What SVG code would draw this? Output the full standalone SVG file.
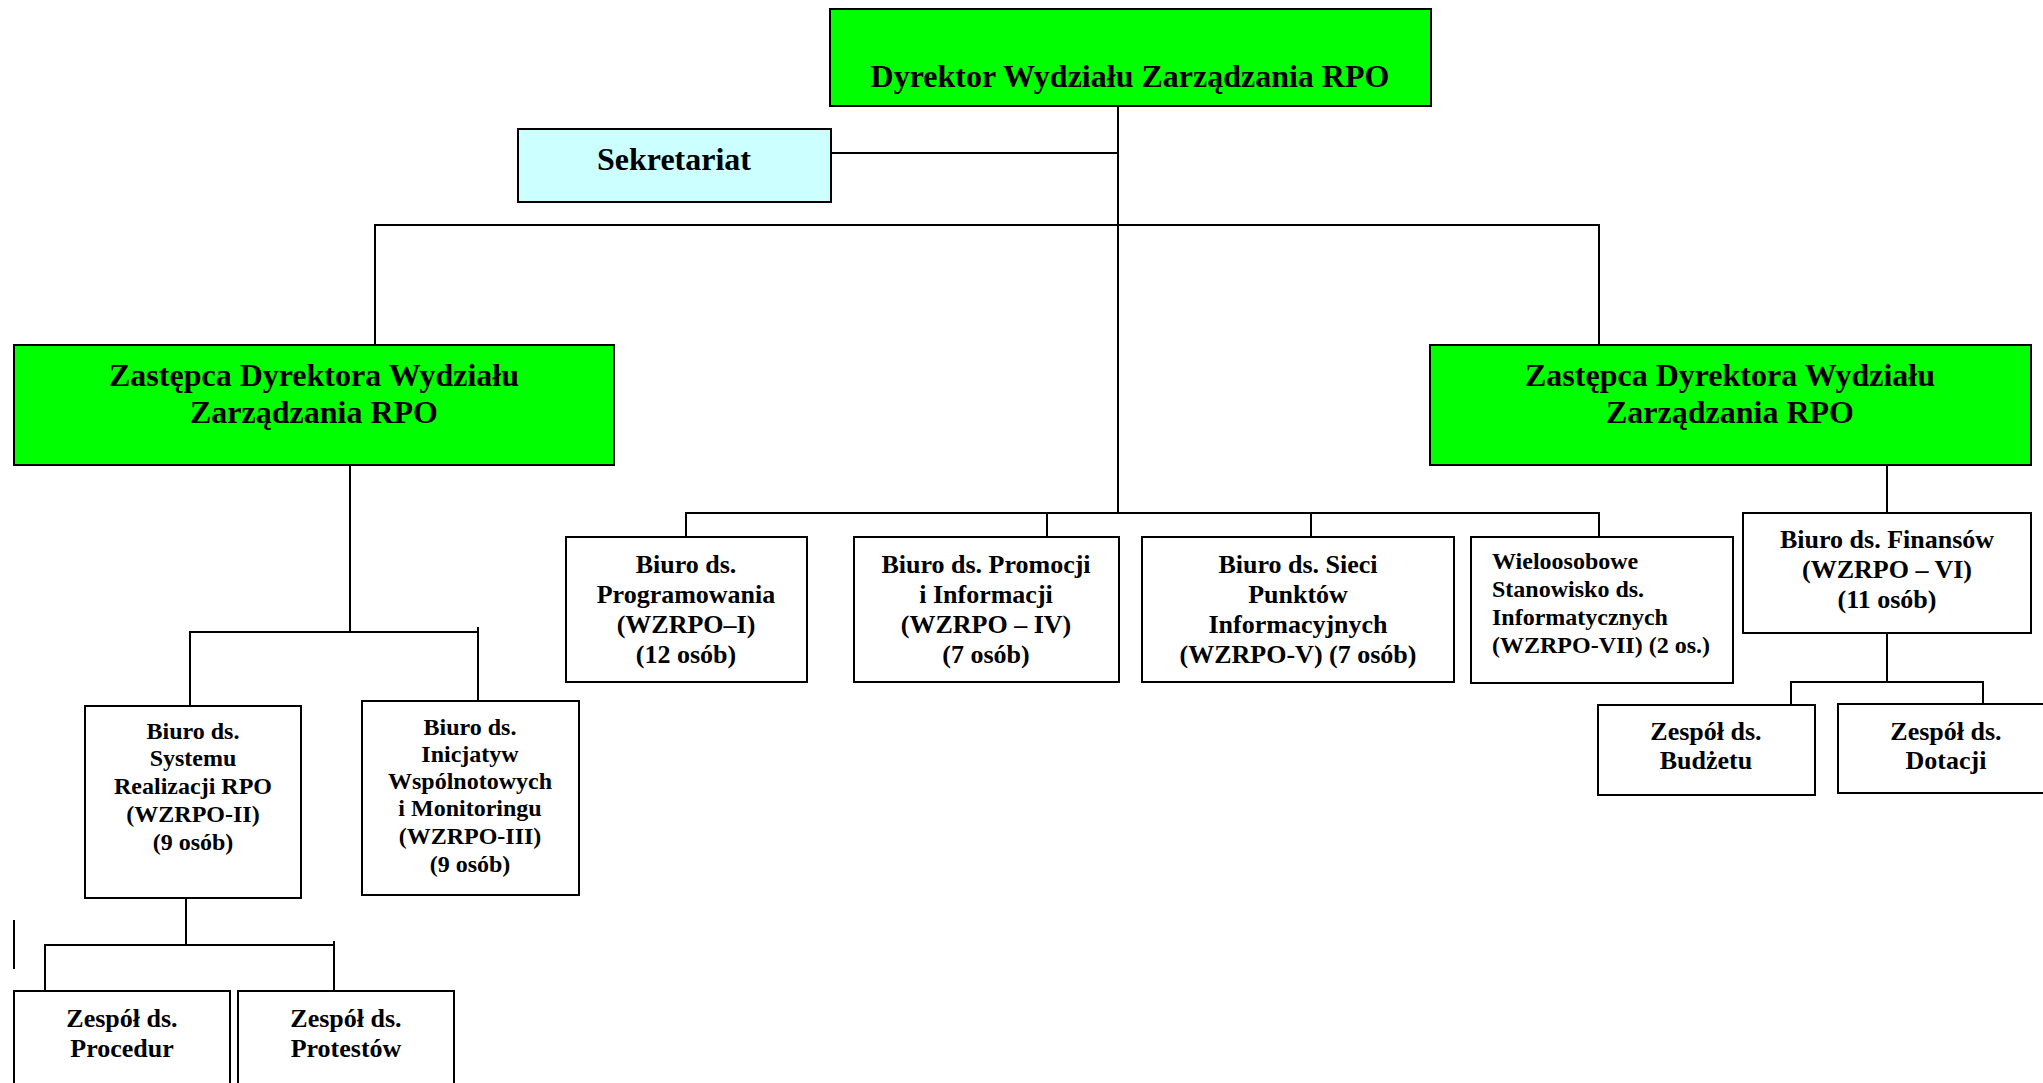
<svg xmlns="http://www.w3.org/2000/svg" width="2043" height="1083" viewBox="0 0 2043 1083">
  <style>
    .box { stroke: #000; stroke-width: 2; fill: #fff; }
    .green { fill: #00ff00; }
    .cyan { fill: #ccffff; }
    .link { stroke: #000; stroke-width: 2; fill: none; }
    text { font-family: "Liberation Serif", "Times New Roman", serif; font-weight: bold; fill: #000; }
    .c { text-anchor: middle; }
    .f32 { font-size: 32px; }
    .f26 { font-size: 26px; }
    .f24 { font-size: 24px; }
  </style>
  <rect width="2043" height="1083" fill="#fff"/>

  <!-- connectors -->
  <g id="connectors" class="link">
    <path d="M1118 106 V513"/>
    <path d="M831 153 H1118"/>
    <path d="M375 345 V225 H1599 V345"/>
    <path d="M686 537 V513 H1599 V537"/>
    <path d="M1047 513 V537"/>
    <path d="M1311 513 V537"/>
    <path d="M350 465 V632"/>
    <path d="M190 706 V632 H478"/>
    <path d="M478 627 V701"/>
    <path d="M186 898 V945"/>
    <path d="M45 993 V945 H334"/>
    <path d="M334 941 V991"/>
    <path d="M14 920 V969"/>
    <path d="M1887 465 V513"/>
    <path d="M1887 633 V682"/>
    <path d="M1791 705 V682 H1983 V704"/>
  </g>

  <g id="dyrektor">
    <rect class="box green" x="830" y="9" width="601" height="97"/>
    <text class="c f32" x="1130" y="87">Dyrektor Wydziału Zarządzania RPO</text>
  </g>

  <g id="sekretariat">
    <rect class="box cyan" x="518" y="129" width="313" height="73"/>
    <text class="c f32" x="674" y="170">Sekretariat</text>
  </g>

  <g id="zastepca-lewy">
    <rect class="box green" x="14" y="345" width="600" height="120"/>
    <text class="c f32" x="314" y="386">Zastępca Dyrektora Wydziału</text>
    <text class="c f32" x="314" y="423">Zarządzania RPO</text>
  </g>

  <g id="zastepca-prawy">
    <rect class="box green" x="1430" y="345" width="601" height="120"/>
    <text class="c f32" x="1730" y="386">Zastępca Dyrektora Wydziału</text>
    <text class="c f32" x="1730" y="423">Zarządzania RPO</text>
  </g>

  <g id="wzrpo-1">
    <rect class="box" x="566" y="537" width="241" height="145"/>
    <text class="c f26" x="686" y="573">Biuro ds.</text>
    <text class="c f26" x="686" y="603">Programowania</text>
    <text class="c f26" x="686" y="633">(WZRPO–I)</text>
    <text class="c f26" x="686" y="663">(12 osób)</text>
  </g>

  <g id="wzrpo-4">
    <rect class="box" x="854" y="537" width="265" height="145"/>
    <text class="c f26" x="986" y="573">Biuro ds. Promocji</text>
    <text class="c f26" x="986" y="603">i Informacji</text>
    <text class="c f26" x="986" y="633">(WZRPO – IV)</text>
    <text class="c f26" x="986" y="663">(7 osób)</text>
  </g>

  <g id="wzrpo-5">
    <rect class="box" x="1142" y="537" width="312" height="145"/>
    <text class="c f26" x="1298" y="573">Biuro ds. Sieci</text>
    <text class="c f26" x="1298" y="603">Punktów</text>
    <text class="c f26" x="1298" y="633">Informacyjnych</text>
    <text class="c f26" x="1298" y="663">(WZRPO-V) (7 osób)</text>
  </g>

  <g id="wzrpo-7">
    <rect class="box" x="1471" y="537" width="262" height="146"/>
    <text class="f24" x="1492" y="569">Wieloosobowe</text>
    <text class="f24" x="1492" y="597">Stanowisko ds.</text>
    <text class="f24" x="1492" y="625">Informatycznych</text>
    <text class="f24" x="1492" y="653">(WZRPO-VII) (2 os.)</text>
  </g>

  <g id="wzrpo-6">
    <rect class="box" x="1743" y="513" width="288" height="120"/>
    <text class="c f26" x="1887" y="548">Biuro ds. Finansów</text>
    <text class="c f26" x="1887" y="578">(WZRPO – VI)</text>
    <text class="c f26" x="1887" y="608">(11 osób)</text>
  </g>

  <g id="zespol-budzetu">
    <rect class="box" x="1598" y="705" width="217" height="90"/>
    <text class="c f26" x="1706" y="740">Zespół ds.</text>
    <text class="c f26" x="1706" y="769">Budżetu</text>
  </g>

  <g id="zespol-dotacji">
    <rect class="box" x="1838" y="704" width="217" height="89"/>
    <text class="c f26" x="1946" y="740">Zespół ds.</text>
    <text class="c f26" x="1946" y="769">Dotacji</text>
  </g>

  <g id="wzrpo-2">
    <rect class="box" x="85" y="706" width="216" height="192"/>
    <text class="c f24" x="193" y="739">Biuro ds.</text>
    <text class="c f24" x="193" y="766">Systemu</text>
    <text class="c f24" x="193" y="794">Realizacji RPO</text>
    <text class="c f24" x="193" y="822">(WZRPO-II)</text>
    <text class="c f24" x="193" y="850">(9 osób)</text>
  </g>

  <g id="wzrpo-3">
    <rect class="box" x="362" y="701" width="217" height="194"/>
    <text class="c f24" x="470" y="735">Biuro ds.</text>
    <text class="c f24" x="470" y="762">Inicjatyw</text>
    <text class="c f24" x="470" y="789">Wspólnotowych</text>
    <text class="c f24" x="470" y="816">i Monitoringu</text>
    <text class="c f24" x="470" y="844">(WZRPO-III)</text>
    <text class="c f24" x="470" y="872">(9 osób)</text>
  </g>

  <g id="zespol-procedur">
    <rect class="box" x="14" y="991" width="216" height="110"/>
    <text class="c f26" x="122" y="1027">Zespół ds.</text>
    <text class="c f26" x="122" y="1057">Procedur</text>
  </g>

  <g id="zespol-protestow">
    <rect class="box" x="238" y="991" width="216" height="110"/>
    <text class="c f26" x="346" y="1027">Zespół ds.</text>
    <text class="c f26" x="346" y="1057">Protestów</text>
  </g>
</svg>
